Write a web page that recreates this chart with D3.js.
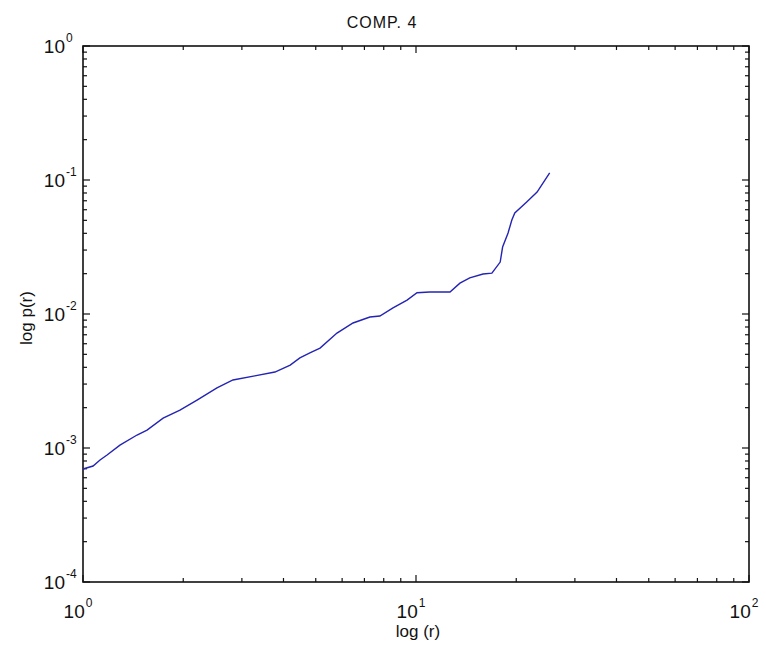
<!DOCTYPE html>
<html>
<head>
<meta charset="utf-8">
<script src="https://cdn.jsdelivr.net/npm/d3@7"></script>
<style>
  body { margin: 0; background: #fff; }
  text { font-family: "Liberation Sans", Arial, sans-serif; fill: #111; }
</style>
</head>
<body>
<div id="chart"></div>
<script>
const width = 766
const height = 649
const margin = {left: 83, right: 17, top: 46, bottom: 67}

// data
const rValues = [1, 1.072, 1.125, 1.181, 1.291, 1.453, 1.557, 1.74, 1.955, 2.2, 2.525, 2.82,
  3.28, 3.77, 4.19, 4.48, 4.8, 5.15, 5.79, 6.47, 7.27, 7.79, 8.53, 9.4, 10.07, 11.0, 12.65,
  13.55, 14.5, 15.9, 16.9, 17.9, 18.2, 18.9, 19.4, 19.8, 21.5, 23.1, 25.2]
const pValues = [6.97e-4, 7.34e-4, 8.13e-4, 8.87e-4, 1.05e-3, 1.25e-3, 1.36e-3, 1.67e-3, 1.92e-3,
  2.28e-3, 2.81e-3, 3.22e-3, 3.45e-3, 3.69e-3, 4.16e-3, 4.70e-3, 5.12e-3, 5.57e-3, 7.21e-3,
  8.57e-3, 9.50e-3, 9.66e-3, 1.11e-2, 1.27e-2, 1.44e-2, 1.46e-2, 1.46e-2, 1.70e-2, 1.86e-2,
  1.99e-2, 2.02e-2, 2.44e-2, 3.16e-2, 4.02e-2, 5.03e-2, 5.67e-2, 6.85e-2, 8.13e-2, 0.113]
const xMajor = [1, 10, 100]
const xExp = ["0", "1", "2"]
const yMajor = [1e-4, 1e-3, 1e-2, 1e-1, 1]
const yExp = ["-4", "-3", "-2", "-1", "0"]

const data = rValues.map((r, i) => ({r: r, p: pValues[i]}))

const svg = d3.select("#chart").append("svg").attr("width", width).attr("height", height)

const x = d3.scaleLog().domain([1, 100]).range([margin.left, width - margin.right])
const y = d3.scaleLog().domain([1e-4, 1]).range([height - margin.bottom, margin.top])

// minor ticks 2..9 in each decade
const xMinor = []
for (let d = 1; d < 100; d *= 10) for (let k = 2; k <= 9; k++) xMinor.push(k * d)
const yMinor = []
for (let d = 1e-4; d < 1; d *= 10) for (let k = 2; k <= 9; k++) yMinor.push(k * d)

const x0 = x.range()[0], x1 = x.range()[1]
const y0 = y.range()[0], y1 = y.range()[1]

// ticks, all pointing inward, on all four sides
const tickGroup = svg.append("g").attr("stroke", "#111").attr("stroke-width", 1.2)
function vTicks(vals, len) {
  vals.forEach(v => {
    const px = x(v)
    tickGroup.append("line").attr("x1", px).attr("x2", px).attr("y1", y0).attr("y2", y0 - len)
    tickGroup.append("line").attr("x1", px).attr("x2", px).attr("y1", y1).attr("y2", y1 + len)
  })
}
function hTicks(vals, len) {
  vals.forEach(v => {
    const py = y(v)
    tickGroup.append("line").attr("x1", x0).attr("x2", x0 + len).attr("y1", py).attr("y2", py)
    tickGroup.append("line").attr("x1", x1).attr("x2", x1 - len).attr("y1", py).attr("y2", py)
  })
}
vTicks(xMinor, 4)
vTicks(xMajor, 7)
hTicks(yMinor, 4)
hTicks(yMajor, 7)

// frame
svg.append("rect")
  .attr("x", x0).attr("y", y1)
  .attr("width", x1 - x0).attr("height", y0 - y1)
  .attr("fill", "none").attr("stroke", "#111").attr("stroke-width", 1.6)

// line
const line = d3.line().x(d => x(d.r)).y(d => y(d.p))
svg.append("path").datum(data)
  .attr("d", line)
  .attr("fill", "none")
  .attr("stroke", "#2424b4")
  .attr("stroke-width", 1.4)

// x tick labels
xMajor.forEach((v, i) => {
  const t = svg.append("text")
    .attr("x", x(v) - 5).attr("y", y0 + 36)
    .attr("text-anchor", "middle")
    .attr("font-size", 19)
  t.append("tspan").text("10")
  t.append("tspan").attr("font-size", 12).attr("dx", 1).attr("dy", -11).text(xExp[i])
})

// y tick labels
yMajor.forEach((v, i) => {
  const t = svg.append("text")
    .attr("x", x0 - 18).attr("y", y(v) + 7)
    .attr("text-anchor", "end")
    .attr("font-size", 19)
  t.text("10")
  svg.append("text")
    .attr("x", x0 - 17).attr("y", y(v) - 4)
    .attr("text-anchor", "start")
    .attr("font-size", 12)
    .text(yExp[i])
})

// title and axis labels
svg.append("text")
  .attr("x", 382).attr("y", 28)
  .attr("text-anchor", "middle")
  .attr("font-size", 16)
  .attr("letter-spacing", 1)
  .text("COMP. 4")

svg.append("text")
  .attr("x", 418).attr("y", 637)
  .attr("text-anchor", "middle")
  .attr("font-size", 17)
  .text("log (r)")

svg.append("text")
  .attr("transform", "translate(32,318) rotate(-90)")
  .attr("text-anchor", "middle")
  .attr("font-size", 17)
  .text("log p(r)")
</script>
</body>
</html>
